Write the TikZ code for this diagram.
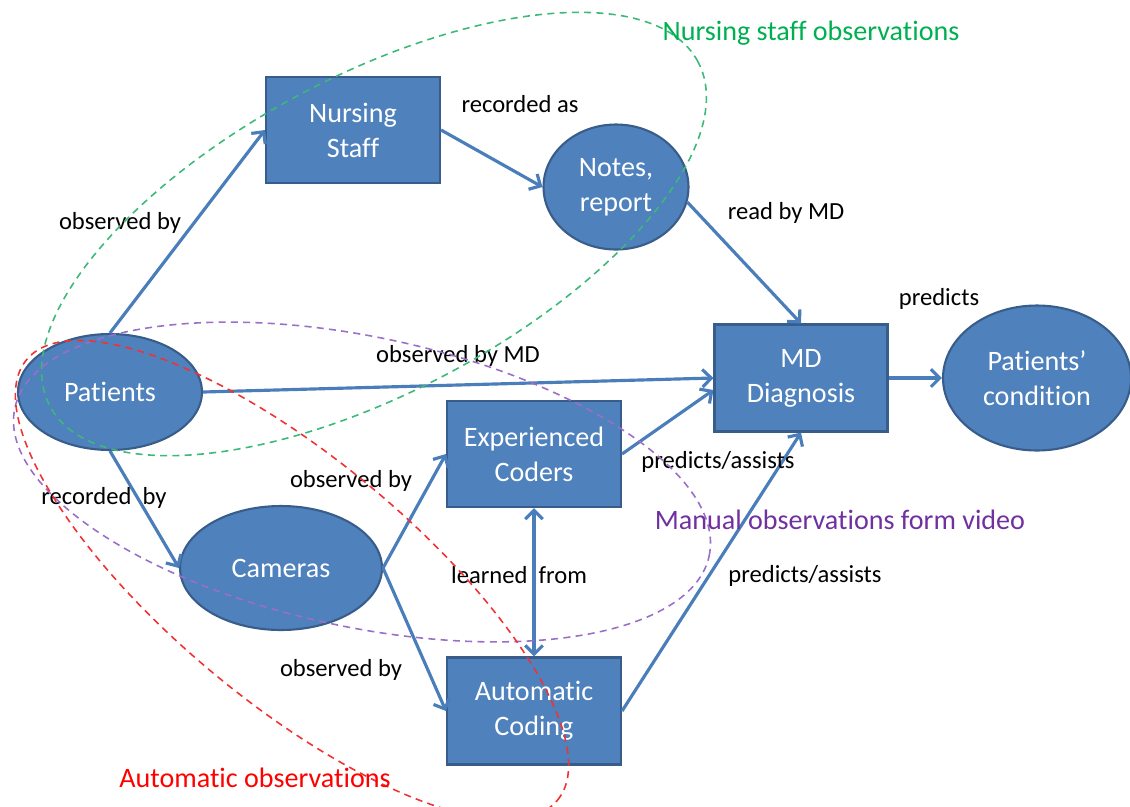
\documentclass[tikz,border=0pt]{standalone}
\usepackage{fontspec}
\setmainfont{Carlito}[Ligatures=NoCommon]
\usetikzlibrary{shapes.geometric,arrows.meta}
\definecolor{nodefill}{RGB}{79,129,189}
\definecolor{nodeline}{RGB}{56,93,138}
\definecolor{arrowcol}{RGB}{74,126,187}
\definecolor{greenobs}{RGB}{0,176,80}
\definecolor{purpleobs}{RGB}{112,48,160}
\definecolor{redobs}{RGB}{255,0,0}
\definecolor{greendash}{RGB}{60,185,120}
\definecolor{purpledash}{RGB}{155,110,200}
\definecolor{reddash}{RGB}{240,50,50}
\begin{document}
\begin{tikzpicture}[x=0.02cm,y=-0.02cm,
 boxnode/.style={rectangle, fill=nodefill, draw=nodeline, line width=1.2pt, text=white,
   font=\fontsize{16}{20}\selectfont, align=center, minimum width=3.48cm, minimum height=2.12cm, inner sep=0pt},
 ovalnode/.style={ellipse, fill=nodefill, draw=nodeline, line width=1.2pt, text=white,
   font=\fontsize{16}{20}\selectfont, align=center, inner sep=0pt},
 conn/.style={draw=arrowcol, line width=1.8pt, -{Straight Barb[length=5pt,width=10pt]}},
 biconn/.style={draw=arrowcol, line width=1.8pt, {Straight Barb[length=5pt,width=10pt]}-{Straight Barb[length=5pt,width=10pt]}},
 lbl/.style={font=\fontsize{14}{16}\selectfont, text=black, inner sep=0pt},
 grouplbl/.style={font=\fontsize{16}{19}\selectfont, inner sep=0pt},
 groupline/.style={line width=0.9pt, dash pattern=on 4pt off 3pt}
]
\useasboundingbox (0,0) rectangle (1130,806);

% nodes
\node[ovalnode, minimum width=3.68cm, minimum height=2.32cm] (pat) at (110,392) {Patients};
\node[boxnode] (ns) at (353,130) {Nursing\\Staff};
\node[ovalnode, minimum width=2.9cm, minimum height=2.5cm] (notes) at (616,187) {Notes,\\report};
\node[boxnode, minimum width=3.46cm, minimum height=2.14cm] (md) at (801,378) {MD\\Diagnosis};
\node[ovalnode, minimum width=3.76cm, minimum height=2.9cm] (pc) at (1037,378) {Patients'\\condition};
\node[ovalnode, minimum width=4.04cm, minimum height=2.48cm] (cam) at (281,568) {Cameras};
\node[boxnode] (exp) at (534,454) {Experienced\\Coders};
\node[boxnode, minimum height=2.14cm] (auto) at (534,711) {Automatic\\Coding};

% connectors
\draw[conn] (pat.north) -- (ns.west);
\draw[conn] (ns.east) -- (notes.west);
\draw[conn] (notes.-12) -- (md.north);
\draw[conn] (pat.east) -- (md.west);
\draw[conn] (md.east) -- (pc.west);
\draw[conn] (pat.south) -- (cam.west);
\draw[conn] (cam.east) -- (exp.west);
\draw[conn] (cam.east) -- (auto.west);
\draw[biconn] (exp.south) -- (auto.north);
\draw[conn] (exp.east) -- ([yshift=-0.24cm]md.west);
\draw[conn] (auto.east) -- (md.south);

% labels
\node[lbl] (l1) at (120,223) {observed by};
\node[lbl] (l2) at (520,104) {recorded as};
\node[lbl] (l3) at (786,213) {read by MD};
\node[lbl] (l4) at (939,299) {predicts};
\node[lbl] (l5) at (458,356) {observed by MD};
\node[lbl] (l6) at (718,462) {predicts/assists};
\node[lbl] (l7) at (351,481) {observed by};
\node[lbl] (l8) at (104,498) {recorded\ \ by};
\node[lbl] (l9) at (519,575) {learned\ \ from};
\node[lbl] (l10) at (805,576) {predicts/assists};
\node[lbl] (l11) at (341,670) {observed by};

% group outlines
\coordinate (gc) at (374,234);
\coordinate (pc2) at (362,482);
\coordinate (rc) at (292,580);
\draw[groupline, draw=greendash, rotate around={28:(gc)}] (gc) ellipse [x radius=7.34cm, y radius=3.16cm];
\draw[groupline, draw=purpledash, rotate around={-12:(pc2)}] (pc2) ellipse [x radius=7.1cm, y radius=2.9cm];
\draw[groupline, draw=reddash, rotate around={-39.7:(rc)}] (rc) ellipse [x radius=6.9cm, y radius=2.44cm];

\node[grouplbl, text=greenobs] (g1) at (811,33) {Nursing staff observations};
\node[grouplbl, text=purpleobs] (g2) at (840,520) {Manual observations form video};
\node[grouplbl, text=redobs] (g3) at (255,778) {Automatic observations};
\end{tikzpicture}
\end{document}
